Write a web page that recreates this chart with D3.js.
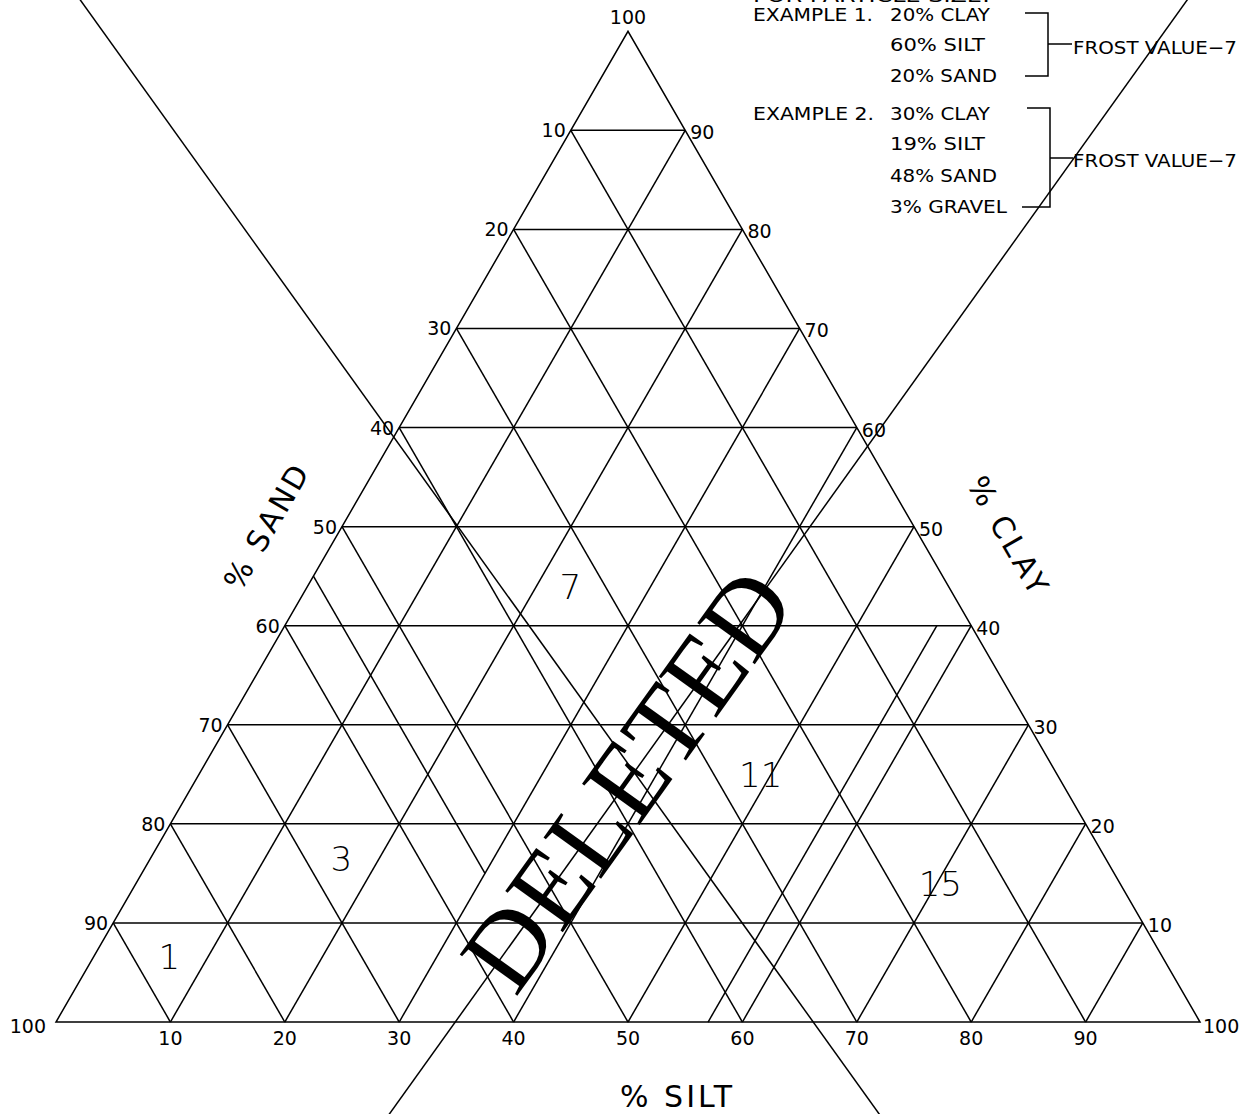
<!DOCTYPE html>
<html><head><meta charset="utf-8">
<script src="https://cdn.jsdelivr.net/npm/d3@7"></script>
<style>html,body{margin:0;padding:0;background:#fff;} svg{display:block;}</style>
</head><body>
<script>
// ---------------- data ----------------
const gridLevels = [10, 20, 30, 40, 50, 60, 70, 80, 90];
const siltTicks = ["10", "20", "30", "40", "50", "60", "70", "80", "90"];   // along base
const sandTicks = ["90", "80", "70", "60", "50", "40", "30", "20", "10"];   // left edge, at clay 10..90
const clayTicks = ["10", "20", "30", "40", "50", "60", "70", "80", "90"];   // right edge
const cornerLabels = ["100", "100", "100"];                                 // sand corner, silt corner, clay apex
const axisTitles = ["% SAND", "% CLAY", "% SILT"];

// frost-group boundary lines (clay %, silt % at both ends)
const boundaryClay = [[104, -10], [104, -10], [0, 40], [45, 15]];
const boundarySilt = [[-50.4, 77.4], [47.4, 33.7], [57, 57], [0, 30]];

// frost value zones
const zoneLabels = ["1", "3", "7", "11", "15"];
const zoneClay = [6.6, 16.5, 43.9, 25.0, 14.0];
const zoneSilt = [6.6, 16.7, 23.0, 49.1, 70.3];

// examples note
const noteTitle = "FOR PARTICLE SIZE:";
const exampleHeads = ["EXAMPLE 1.", "EXAMPLE 2."];
const example1 = ["20% CLAY", "60% SILT", "20% SAND"];
const example2 = ["30% CLAY", "19% SILT", "48% SAND", "3% GRAVEL"];
const frostResults = ["FROST VALUE\u22127", "FROST VALUE\u22127"];
const watermark = "DELETED";

// ---------------- drawing ----------------
const W = 1252, H = 1114;
const svg = d3.select("body").append("svg").attr("width", W).attr("height", H)
  .attr("viewBox", `0 0 ${W} ${H}`);

const X = d3.scaleLinear().domain([0, 100]).range([56, 1200]);
const Y = d3.scaleLinear().domain([0, 100]).range([1022, 1022 - 0.8660254 * 1144]);
const pt = (clay, silt) => [X(silt + clay / 2), Y(clay)];
const line = d3.line();

const ink = "#000";
const g = svg.append("g").attr("fill", "none").attr("stroke", ink).attr("stroke-width", 1.5);

// outline
g.append("path").attr("d", line([pt(0, 0), pt(0, 100), pt(100, 0)]) + "Z");

// grid
const gridSegs = [];
gridLevels.forEach(v => {
  gridSegs.push([pt(v, 0), pt(v, 100 - v)]);          // constant clay
  gridSegs.push([pt(0, v), pt(100 - v, v)]);          // constant silt
  gridSegs.push([pt(0, 100 - v), pt(100 - v, 0)]);    // constant sand
});
g.selectAll("path.grid").data(gridSegs).join("path").attr("class", "grid").attr("d", d => line(d));

// boundary lines
g.selectAll("path.bound").data(boundaryClay.map((c, i) => [pt(c[0], boundarySilt[i][0]), pt(c[1], boundarySilt[i][1])]))
  .join("path").attr("class", "bound").attr("d", d => line(d));

// tick labels
const font = "'DejaVu Sans', sans-serif";
const t = svg.append("g").attr("font-family", font).attr("font-size", 19).attr("fill", ink);
siltTicks.forEach((s, i) => {
  const p = pt(0, gridLevels[i]);
  t.append("text").attr("x", p[0]).attr("y", p[1] + 23).attr("text-anchor", "middle").text(s);
});
sandTicks.forEach((s, i) => {
  const p = pt(gridLevels[i], 0);
  t.append("text").attr("x", p[0] - 5).attr("y", p[1] + 7).attr("text-anchor", "end").text(s);
});
clayTicks.forEach((s, i) => {
  const p = pt(gridLevels[i], 100 - gridLevels[i]);
  t.append("text").attr("x", p[0] + 5).attr("y", p[1] + 9).attr("text-anchor", "start").text(s);
});
{
  const a = pt(0, 0), b = pt(0, 100), c = pt(100, 0);
  t.append("text").attr("x", a[0] - 10).attr("y", a[1] + 11).attr("text-anchor", "end").text(cornerLabels[0]);
  t.append("text").attr("x", b[0] + 3).attr("y", b[1] + 11).attr("text-anchor", "start").text(cornerLabels[1]);
  t.append("text").attr("x", c[0]).attr("y", c[1] - 7).attr("text-anchor", "middle").text(cornerLabels[2]);
}

// axis titles
const at = svg.append("g").attr("font-family", font).attr("font-size", 30).attr("fill", ink);
at.append("text").attr("transform", "translate(266,527) rotate(-60)").attr("text-anchor", "middle")
  .attr("dy", "0.36em").attr("textLength", 138).attr("lengthAdjust", "spacing").text(axisTitles[0]);
at.append("text").attr("transform", "translate(1008,535) rotate(60)").attr("text-anchor", "middle")
  .attr("dy", "0.36em").attr("textLength", 130).attr("lengthAdjust", "spacing").text(axisTitles[1]);
at.append("text").attr("x", 620).attr("y", 1107).attr("textLength", 112).attr("lengthAdjust", "spacing").text(axisTitles[2]);

// zone labels
const zl = svg.append("g").attr("font-family", font).attr("font-size", 34).attr("font-weight", 200).attr("fill", ink);
zoneLabels.forEach((s, i) => {
  const p = pt(zoneClay[i], zoneSilt[i]);
  zl.append("text").attr("x", p[0]).attr("y", p[1]).attr("dy", "0.36em").attr("text-anchor", "middle").text(s);
});

// note block
const nt = svg.append("g").attr("font-family", font).attr("font-size", 18).attr("fill", ink);
nt.append("text").attr("x", 753).attr("y", 2).attr("textLength", 237).attr("lengthAdjust", "spacingAndGlyphs").text(noteTitle);
const base1 = [21, 51, 82], base2 = [120, 150, 182, 213];
const w1 = [100, 95, 107], w2 = [100, 95, 107, 117];
nt.append("text").attr("x", 753).attr("y", base1[0]).attr("textLength", 120).attr("lengthAdjust", "spacingAndGlyphs").text(exampleHeads[0]);
nt.append("text").attr("x", 753).attr("y", base2[0]).attr("textLength", 121).attr("lengthAdjust", "spacingAndGlyphs").text(exampleHeads[1]);
example1.forEach((s, i) => nt.append("text").attr("x", 890).attr("y", base1[i]).attr("textLength", w1[i]).attr("lengthAdjust", "spacingAndGlyphs").text(s));
example2.forEach((s, i) => nt.append("text").attr("x", 890).attr("y", base2[i]).attr("textLength", w2[i]).attr("lengthAdjust", "spacingAndGlyphs").text(s));
nt.append("text").attr("x", 1073).attr("y", 54).attr("textLength", 164).attr("lengthAdjust", "spacingAndGlyphs").text(frostResults[0]);
nt.append("text").attr("x", 1073).attr("y", 167).attr("textLength", 164).attr("lengthAdjust", "spacingAndGlyphs").text(frostResults[1]);

const br = svg.append("g").attr("fill", "none").attr("stroke", ink).attr("stroke-width", 1.5);
br.append("path").attr("d", line([[1025, 13], [1048, 13], [1048, 76], [1025, 76]]));
br.append("path").attr("d", line([[1048, 44], [1072, 44]]));
br.append("path").attr("d", line([[1027, 108], [1050, 108], [1050, 207], [1022, 207]]));
br.append("path").attr("d", line([[1050, 158], [1073, 158]]));

// watermark
svg.append("text").attr("transform", "translate(628,780) rotate(-54.4)")
  .attr("text-anchor", "middle").attr("dy", "0.33em")
  .attr("font-family", "'Liberation Serif', 'Times New Roman', serif").attr("font-size", 108)
  .attr("fill", ink).text(watermark);
</script>
</body></html>
